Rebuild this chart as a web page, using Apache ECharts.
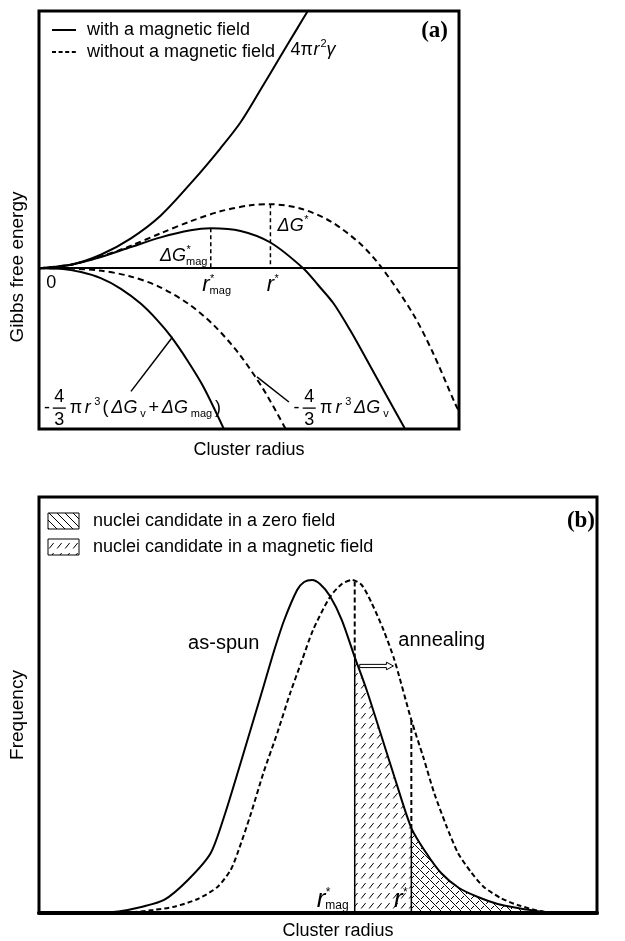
<!DOCTYPE html>
<html>
<head>
<meta charset="utf-8">
<script src="https://cdn.jsdelivr.net/npm/echarts@6/dist/echarts.min.js"></script>
<style>
  html, body { margin: 0; padding: 0; background: #fff; }
  #chart { width: 625px; height: 941px; }
</style>
</head>
<body>
<div id="chart"></div>
<script>
// ---------- (a) Gibbs free energy of a cluster vs. its radius (arbitrary units) ----------
const surfaceTerm = [[0,0],[0.76,0.11],[1.47,0.42],[2.19,0.93],[2.90,1.64],[3.68,2.74],[4.32,3.73],[4.80,4.54],[5.27,5.54],[5.75,6.59],[6.15,7.46],[6.40,8.00]];
const totalWithField = [[0,0],[0.76,0.11],[1.47,0.35],[2.19,0.66],[2.90,0.96],[3.61,1.18],[4.09,1.24],[4.80,1.16],[5.51,0.80],[6.29,0],[6.65,-0.53],[7.01,-1.09],[7.41,-1.93],[7.81,-2.86],[8.27,-3.95],[8.72,-5.01]];
const totalNoField = [[0,0],[0.76,0.11],[1.47,0.36],[2.19,0.70],[2.90,1.09],[3.61,1.46],[4.32,1.77],[5.04,1.96],[5.51,1.99],[6.22,1.86],[6.94,1.46],[7.65,0.76],[8.17,0],[8.91,-1.43],[9.38,-2.63],[9.90,-4.19],[10.0,-4.45]];
const volumeWithField = [[0,0],[0.52,-0.02],[1.00,-0.12],[1.47,-0.31],[1.95,-0.64],[2.42,-1.10],[2.82,-1.62],[3.14,-2.12],[3.53,-2.86],[3.92,-3.70],[4.42,-5.05]];
const volumeNoField = [[0,0],[0.71,-0.01],[1.43,-0.07],[2.14,-0.24],[2.85,-0.57],[3.56,-1.11],[4.16,-1.77],[4.75,-2.64],[5.34,-3.76],[5.89,-5.04]];
const leaderWithField = [[2.19,-3.83],[3.18,-2.14]];
const leaderNoField = [[5.19,-3.38],[5.95,-4.16]];
const legendLabelsA = ['with a magnetic field', 'without a magnetic field'];

// ---------- (b) cluster size distributions ----------
const asSpun = [[10.68,0],[14.23,0.36],[18.33,1.44],[22.42,3.13],[26.69,7.93],[30.78,14.42],[33.27,23.56],[35.59,33.65],[37.90,43.99],[40.21,54.33],[42.17,63.22],[43.95,70.43],[46.26,77.64],[47.51,79.57],[48.93,80.05],[50.36,79.09],[52.14,76.20],[54.27,70.43],[56.58,61.54],[58.72,53.61],[60.85,44.71],[63.70,32.69],[66.73,20.43],[69.40,14.42],[72.06,9.62],[75.27,6.01],[78.65,3.85],[82.21,2.16],[85.77,1.20],[89.86,0.36],[93.42,0]];
const annealed = [[12.46,0],[16.01,0.12],[20.46,0.72],[24.20,1.51],[28.47,3.37],[32.03,6.32],[34.34,10.34],[35.59,14.42],[37.90,23.56],[40.21,33.65],[42.70,43.27],[45.02,52.88],[47.15,60.82],[49.11,68.03],[52.14,75.96],[54.27,79.09],[56.05,80.05],[57.83,78.85],[59.61,74.52],[61.74,68.03],[63.70,60.82],[66.73,46.39],[68.86,37.50],[70.82,28.85],[72.95,21.15],[75.09,14.42],[77.40,9.86],[79.72,6.25],[82.74,3.61],[85.77,1.92],[90.39,0.31],[94.31,0]];
const criticalRadiiB = [56.58, 66.73];   // r*_mag, r*
const annealShift = [[57.47,59.38],[63.52,59.38]];
const legendLabelsB = ['nuclei candidate in a zero field', 'nuclei candidate in a magnetic field'];

const FONT = "'Liberation Sans', Arial, Helvetica, sans-serif";
const SERIF = "'Liberation Serif', 'Times New Roman', serif";
const BLACK = '#000';

// value of a curve at x (linear between listed points)
function yAt(curve, x) {
  for (let i = 1; i < curve.length; i++) {
    const a = curve[i - 1], b = curve[i];
    if (x >= a[0] && x <= b[0]) return a[1] + (b[1] - a[1]) * (x - a[0]) / (b[0] - a[0]);
  }
  return 0;
}
function peakOf(curve) { return curve.reduce((m, p) => (p[1] > m[1] ? p : m), curve[0]); }

// hatch tiles
function tile(w, h, draw) {
  const c = document.createElement('canvas');
  c.width = w; c.height = h;
  const g = c.getContext('2d');
  g.strokeStyle = '#000'; g.lineWidth = 1; g.lineCap = 'butt';
  draw(g);
  return c;
}
const backslashTile = tile(8, 8, g => {
  g.beginPath();
  g.moveTo(-1, -1); g.lineTo(9, 9);
  g.moveTo(-1, 7); g.lineTo(1, 9);
  g.moveTo(7, -1); g.lineTo(9, 1);
  g.stroke();
});
const dashSlashTile = tile(8, 10, g => {
  g.beginPath();
  g.moveTo(1.2, 8.5); g.lineTo(5.6, 3.0);
  g.stroke();
});
const crossTile = tile(10, 10, g => {
  g.beginPath();
  g.moveTo(-1, -1); g.lineTo(11, 11);
  g.moveTo(-1, 9); g.lineTo(1, 11);
  g.moveTo(9, -1); g.lineTo(11, 1);
  g.moveTo(1, 9); g.lineTo(4, 6);
  g.moveTo(6, 4); g.lineTo(9, 1);
  g.stroke();
});
const pat = (c) => ({ image: c, repeat: 'repeat' });

function line(name, data, gi, width, type, extra) {
  return Object.assign({
    name: name, type: 'line', data: data, xAxisIndex: gi, yAxisIndex: gi,
    symbol: 'none', smooth: 0.3, silent: true, animation: false, z: 3,
    lineStyle: { color: BLACK, width: width, type: type },
    itemStyle: { color: BLACK }
  }, extra || {});
}

const peakMag = peakOf(totalWithField);
const peakNo = peakOf(totalNoField);
const [rMagB, rStarB] = criticalRadiiB;

const titleStyle = (pad) => ({ fontSize: 18, fontFamily: FONT, color: BLACK, padding: pad });
const yTitleStyle = (pad) => ({ fontSize: 19, fontFamily: FONT, color: BLACK, padding: pad });
const hiddenAxis = {
  axisTick: { show: false }, axisLabel: { show: false }, splitLine: { show: false }
};

const chart = echarts.init(document.getElementById('chart'));
chart.setOption({
  animation: false,
  backgroundColor: '#fff',
  grid: [
    { left: 38, top: 11, width: 421, height: 418, show: true, borderColor: BLACK, borderWidth: 3, backgroundColor: 'transparent' },
    { left: 35, top: 497, width: 562, height: 416, show: true, borderColor: BLACK, borderWidth: 3, backgroundColor: 'transparent' }
  ],
  xAxis: [
    Object.assign({ gridIndex: 0, type: 'value', min: 0, max: 10,
      axisLine: { show: false, onZero: false },
      name: 'Cluster radius', nameLocation: 'middle', nameGap: 12, nameTextStyle: titleStyle([0, 0, 0, 0]) }, hiddenAxis),
    Object.assign({ gridIndex: 1, type: 'value', min: 0, max: 100,
      axisLine: { show: true, onZero: false, lineStyle: { color: BLACK, width: 4 } },
      name: 'Cluster radius', nameLocation: 'middle', nameGap: 9, nameTextStyle: titleStyle([0, 0, 0, 40]) }, hiddenAxis)
  ],
  yAxis: [
    Object.assign({ gridIndex: 0, type: 'value', min: -5, max: 8,
      axisLine: { show: false },
      name: 'Gibbs free energy', nameLocation: 'middle', nameRotate: 90, nameGap: 12, nameTextStyle: yTitleStyle([0, 94, 0, 0]) }, hiddenAxis),
    Object.assign({ gridIndex: 1, type: 'value', min: 0, max: 100,
      axisLine: { show: false },
      name: 'Frequency', nameLocation: 'middle', nameRotate: 90, nameGap: 12, nameTextStyle: yTitleStyle([0, 20, 0, 0]) }, hiddenAxis)
  ],
  series: [
    line(legendLabelsA[0], totalWithField, 0, 2, 'solid', {
      markLine: {
        silent: true, symbol: 'none', animation: false,
        label: { show: false },
        lineStyle: { color: BLACK, width: 2, type: 'solid' },
        data: [{ yAxis: 0 }]
      }
    }),
    line(legendLabelsA[1], totalNoField, 0, 2, [6, 4]),
    line('surface term', surfaceTerm, 0, 2, 'solid'),
    line('volume term with field', volumeWithField, 0, 2, 'solid'),
    line('volume term', volumeNoField, 0, 2, [6, 4]),
    line('barrier with field', [peakMag, [peakMag[0], 0]], 0, 1.5, [4, 3], { smooth: false }),
    line('barrier', [peakNo, [peakNo[0], 0]], 0, 1.5, [4, 3], { smooth: false }),
    line('leader 1', leaderWithField, 0, 1.5, 'solid', { smooth: false }),
    line('leader 2', leaderNoField, 0, 1.5, 'solid', { smooth: false }),

    // (b) shaded nuclei candidates under the as-spun distribution
    line('candidates, magnetic field only', asSpun.filter(p => p[0] >= rMagB && p[0] <= rStarB), 1, 0, 'solid', {
      smooth: 0.25, z: 1, areaStyle: { color: pat(dashSlashTile), opacity: 1 }
    }),
    line('candidates, both', asSpun.filter(p => p[0] >= rStarB), 1, 0, 'solid', {
      smooth: 0.25, z: 1, areaStyle: { color: pat(crossTile), opacity: 1 }
    }),
    line('as-spun', asSpun, 1, 2, 'solid', { smooth: 0.25 }),
    line('annealing', annealed, 1, 2, [5, 3], { smooth: 0.25 }),
    line('r*mag upper', [[rMagB, yAt(annealed, rMagB)], [rMagB, yAt(asSpun, rMagB)]], 1, 2, [5, 3], { smooth: false }),
    line('r*mag lower', [[rMagB, yAt(asSpun, rMagB)], [rMagB, 0]], 1, 1.5, 'solid', { smooth: false }),
    line('r* upper', [[rStarB, yAt(annealed, rStarB)], [rStarB, yAt(asSpun, rStarB)]], 1, 2, [5, 3], { smooth: false }),
    line('r* lower', [[rStarB, yAt(asSpun, rStarB)], [rStarB, 0]], 1, 1.5, 'solid', { smooth: false })
  ]
});

// ---------- typeset labels (italic symbols, scripts and stacked fractions) ----------
const mctx = document.createElement('canvas').getContext('2d');
function fontCss(fs, it, bold, fam) { return (it ? 'italic ' : '') + (bold ? 'bold ' : '') + fs + 'px ' + (fam || FONT); }
function textW(s, fs, it) { mctx.font = fontCss(fs, it); return mctx.measureText(s).width; }

function textEl(x, y, s, fs, it, align, extra) {
  return Object.assign({
    type: 'text', x: x, y: y, silent: true, z: 20,
    style: {
      text: s, fontSize: fs, fontFamily: FONT, fontStyle: it ? 'italic' : 'normal',
      fill: BLACK, align: align || 'left', textAlign: align || 'left',
      verticalAlign: 'middle', textVerticalAlign: 'middle'
    }
  }, extra || {});
}

function formula(tokens, x, y, align, base, gap) {
  const items = [];
  let cx = 0;
  gap = gap || 0;
  tokens.forEach(tok => {
    if (tok.num !== undefined) {
      const fs = tok.fs || base;
      const w = Math.max(textW(tok.num, fs), textW(tok.den, fs)) + 3;
      items.push({ k: 't', x: cx + w / 2, y: -fs * 0.62, s: tok.num, fs: fs, a: 'center' });
      items.push({ k: 't', x: cx + w / 2, y: fs * 0.68, s: tok.den, fs: fs, a: 'center' });
      items.push({ k: 'l', x1: cx, x2: cx + w, y: 0 });
      cx += w + gap + 1;
    } else if (tok.sup !== undefined || tok.sub !== undefined) {
      const fs = tok.fs || Math.round(base * 0.62);
      const ws = tok.sup ? textW(tok.sup, fs) : 0;
      const wb = tok.sub ? textW(tok.sub, fs) : 0;
      if (tok.sup) items.push({ k: 't', x: cx + 0.5, y: -base * 0.36, s: tok.sup, fs: fs, a: 'left' });
      if (tok.sub) items.push({ k: 't', x: cx, y: base * 0.3, s: tok.sub, fs: fs, a: 'left' });
      cx += Math.max(ws, wb) + gap;
    } else {
      const fs = tok.fs || base;
      items.push({ k: 't', x: cx, y: tok.dy || 0, s: tok.t, fs: fs, it: tok.it, a: 'left' });
      cx += textW(tok.t, fs, tok.it) + gap;
    }
  });
  const off = align === 'center' ? -cx / 2 : align === 'right' ? -cx : 0;
  return items.map(it => it.k === 'l'
    ? { type: 'line', silent: true, z: 20, shape: { x1: x + it.x1 + off, y1: y + it.y, x2: x + it.x2 + off, y2: y + it.y }, style: { stroke: BLACK, lineWidth: 1.3 } }
    : textEl(x + it.x + off, y + it.y, it.s, it.fs, it.it, it.a));
}

function place() {
  const at = (g, x, y) => chart.convertToPixel({ gridIndex: g }, [x, y]);
  const els = [];
  const put = (arr) => arr.forEach(e => els.push(e));
  let p;

  // (a) key: solid / dashed line samples
  [[legendLabelsA[0], 'solid', 30], [legendLabelsA[1], [4, 2.6], 52]].forEach(([label, dash, y]) => {
    els.push({ type: 'line', silent: true, z: 20, shape: { x1: 52, y1: y, x2: 76, y2: y },
      style: { stroke: BLACK, lineWidth: 2, lineDash: dash === 'solid' ? null : dash } });
    els.push(textEl(87, y, label, 18, false, 'left'));
  });

  // (a) curve and axis annotations
  p = at(0, 5.99, 6.78); put(formula([{ t: '4π' }, { t: 'r', it: true }, { sup: '2' }, { t: 'γ', it: true }], p[0], p[1], 'left', 18, 0.5));
  p = at(0, 5.68, 1.31); put(formula([{ t: 'ΔG', it: true }, { sup: '*' }], p[0], p[1], 'left', 18));
  p = at(0, 4.01, 0.37); put(formula([{ t: 'ΔG', it: true }, { sup: '*', sub: 'mag' }], p[0], p[1], 'right', 18));
  p = at(0, 0.29, -0.47); put(formula([{ t: '0' }], p[0], p[1], 'center', 18));
  p = at(0, 4.23, -0.53); put(formula([{ t: 'r', it: true, fs: 22 }, { sup: '*', sub: 'mag' }], p[0], p[1], 'center', 18));
  p = at(0, 5.56, -0.53); put(formula([{ t: 'r', it: true, fs: 22 }, { sup: '*' }], p[0], p[1], 'center', 18));
  p = at(0, 0.12, -4.35); put(formula([{ t: '-' }, { num: '4', den: '3' }, { t: 'π' }, { t: 'r', it: true }, { sup: '3' },
    { t: '(' }, { t: 'ΔG', it: true }, { sub: 'v' }, { t: '+' }, { t: 'ΔG', it: true }, { sub: 'mag' }, { t: ')' }], p[0], p[1], 'left', 18, 2.8));
  p = at(0, 6.06, -4.35); put(formula([{ t: '-' }, { num: '4', den: '3' }, { t: 'π' }, { t: 'r', it: true }, { sup: '3' },
    { t: 'ΔG', it: true }, { sub: 'v' }], p[0], p[1], 'left', 18, 3.2));
  els.push({ type: 'text', x: 448, y: 31, silent: true, z: 20,
    style: { text: '(a)', fontSize: 23, fontWeight: 'bold', fontFamily: SERIF, fill: BLACK, align: 'right', textAlign: 'right', verticalAlign: 'middle', textVerticalAlign: 'middle' } });

  // (b) curve and axis annotations
  p = at(1, 33.1, 64.9); els.push(textEl(p[0], p[1], 'as-spun', 20, false, 'center'));
  p = at(1, 64.4, 65.4); els.push(textEl(p[0], p[1], 'annealing', 20, false, 'left'));
  p = at(1, 55.5, 3.1); put(formula([{ t: 'r', it: true, fs: 26 }, { sup: '*', sub: 'mag' }], p[0], p[1], 'right', 20));
  p = at(1, 66.0, 3.1); put(formula([{ t: 'r', it: true, fs: 26 }, { sup: '*' }], p[0], p[1], 'right', 20));

  // hollow arrow: shift of the distribution on annealing
  const a0 = at(1, annealShift[0][0], annealShift[0][1]);
  const a1 = at(1, annealShift[1][0], annealShift[1][1]);
  const yc = a0[1], sh = 1.6, hh = 3.8, hl = 7;
  els.push({ type: 'polygon', silent: true, z: 20,
    shape: { points: [[a0[0], yc - sh], [a1[0] - hl, yc - sh], [a1[0] - hl, yc - hh], [a1[0], yc], [a1[0] - hl, yc + hh], [a1[0] - hl, yc + sh], [a0[0], yc + sh]] },
    style: { fill: '#fff', stroke: BLACK, lineWidth: 1 } });

  // (b) key of the shaded areas
  [[backslashTile, legendLabelsB[0], 521], [dashSlashTile, legendLabelsB[1], 547]].forEach(([t, label, y]) => {
    els.push({ type: 'rect', silent: true, z: 20, shape: { x: 48, y: y - 8, width: 31, height: 16 },
      style: { fill: pat(t), stroke: BLACK, lineWidth: 1 } });
    els.push(textEl(93, y, label, 18, false, 'left'));
  });
  els.push({ type: 'text', x: 595, y: 521, silent: true, z: 20,
    style: { text: '(b)', fontSize: 23, fontWeight: 'bold', fontFamily: SERIF, fill: BLACK, align: 'right', textAlign: 'right', verticalAlign: 'middle', textVerticalAlign: 'middle' } });

  chart.setOption({ graphic: { elements: els } });
}
place();
</script>
</body>
</html>
